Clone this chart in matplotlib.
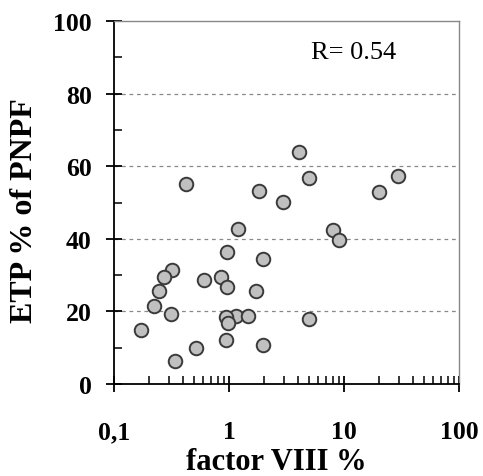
import matplotlib
matplotlib.use("Agg")
import matplotlib.pyplot as plt
from matplotlib.ticker import FixedLocator, LogLocator, NullFormatter, FixedFormatter

factor_viii = [4.05, 0.42, 1.83, 2.96, 5.0, 20.2, 29.7, 1.2, 8.07, 9.05, 0.955, 1.99,
               0.32, 0.27, 0.61, 0.86, 0.97, 0.248, 1.72, 0.221, 0.311, 1.15, 1.45,
               0.95, 0.99, 5.0, 0.17, 0.516, 0.936, 1.99, 0.339]
etp = [64, 55, 53.3, 50.2, 56.8, 53, 57.2, 42.7, 42.4, 39.7, 36.3, 34.4,
       31.5, 29.6, 28.6, 29.4, 26.8, 25.5, 25.7, 21.4, 19.3, 18.8, 18.8,
       18.4, 16.7, 17.9, 15, 10, 12.2, 10.8, 6.2]

x_ticks = [0.1, 1, 10, 100]
x_tick_labels = ["0,1", "1", "10", "100"]
y_ticks = [0, 20, 40, 60, 80, 100]
y_tick_labels = ["0", "20", "40", "60", "80", "100"]
r_text = "R= 0.54"

plt.rcParams['font.family'] = ['Liberation Serif', 'DejaVu Serif']

fig = plt.figure(figsize=(4.83, 4.77), dpi=100)
ax = fig.add_axes([114/483, 1 - 385/477, (459-114)/483, (385-22)/477])

ax.set_xscale('log')
ax.set_xlim(0.1, 100)
ax.set_ylim(0, 100)

for g in [20, 40, 60, 80]:
    ax.axhline(g, color='#888888', linestyle=(0, (3, 3)), linewidth=0.9, zorder=1)

ax.scatter(factor_viii, etp, s=95, facecolor='#c0c0c0', edgecolor='#3a3a3a',
           linewidth=1.4, zorder=3)

ax.xaxis.set_major_locator(FixedLocator(x_ticks))
ax.xaxis.set_major_formatter(FixedFormatter(x_tick_labels))
ax.xaxis.set_minor_locator(LogLocator(base=10, subs=range(2, 10)))
ax.xaxis.set_minor_formatter(NullFormatter())
ax.yaxis.set_major_locator(FixedLocator(y_ticks))
ax.yaxis.set_major_formatter(FixedFormatter(y_tick_labels))
ax.yaxis.set_minor_locator(FixedLocator([10, 30, 50, 70, 90]))

ax.tick_params(axis='both', which='major', direction='inout', length=12, width=1.3,
               color='black', labelsize=18.5)
ax.tick_params(axis='both', which='minor', direction='in', length=6, width=1.1, color='black')
ax.tick_params(axis='x', which='major', pad=20)
ax.tick_params(axis='y', which='major', pad=10)
for lab in ax.get_xticklabels() + ax.get_yticklabels():
    lab.set_fontweight('bold')

ax.spines['left'].set_color('black')
ax.spines['bottom'].set_color('black')
ax.spines['left'].set_linewidth(1.3)
ax.spines['bottom'].set_linewidth(1.3)
ax.spines['top'].set_color('#888888')
ax.spines['right'].set_color('#888888')
ax.spines['top'].set_linewidth(1.0)
ax.spines['right'].set_linewidth(1.0)

ax.text(0.57, 0.915, r_text, transform=ax.transAxes, fontsize=19, ha='left', va='center')

fig.text(276/483, 1 - 470/477, "factor VIII %", fontsize=22, fontweight='bold',
         ha='center', va='baseline')
fig.text(25/483, 1 - 211/477, "ETP % of PNPF", fontsize=23, fontweight='bold',
         ha='center', va='center', rotation=90)

fig.savefig("out.png", dpi=100)
